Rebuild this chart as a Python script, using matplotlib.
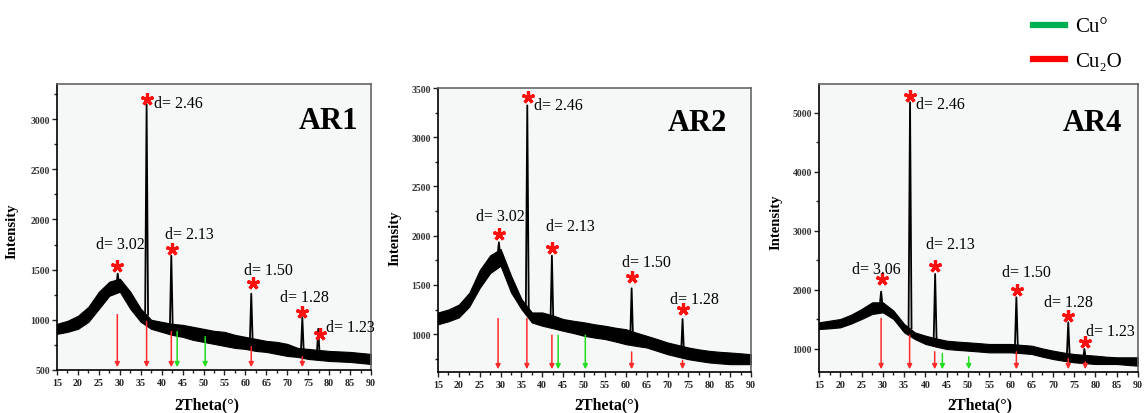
import matplotlib
matplotlib.use('Agg')
import matplotlib.pyplot as plt
from matplotlib.lines import Line2D
from matplotlib.ticker import MultipleLocator

plt.rcParams['font.family'] = ['Liberation Serif', 'DejaVu Serif']

tt = [15, 17.5, 20, 22.5, 25, 27.5, 30, 32.5, 35, 37.5, 40, 42.5, 45, 47.5, 50, 52.5,
      55, 57.5, 60, 62.5, 65, 67.5, 70, 72.5, 75, 77.5, 80, 82.5, 85, 87.5, 90]

# ---- AR1 ----
lo1 = [860, 880, 910, 980, 1110, 1240, 1280, 1110, 980, 910, 880, 850, 830, 800, 780, 760,
       740, 720, 710, 690, 680, 660, 640, 630, 610, 600, 590, 585, 580, 570, 560]
hi1 = [960, 990, 1040, 1130, 1280, 1380, 1410, 1280, 1110, 1000, 980, 960, 950, 930, 910, 890,
       880, 850, 830, 810, 790, 780, 760, 720, 710, 700, 690, 685, 680, 670, 660]
peak_pos1 = [29.5, 36.4, 42.3, 61.4, 73.6, 77.4]
peak_top1 = [1460, 3150, 1640, 1260, 1025, 910]
peak_base1 = [1330, 1050, 900, 760, 670, 640]
star_x1 = [29.4, 36.4, 42.4, 61.7, 73.6, 77.9]
star_y1 = [1540, 3200, 1710, 1365, 1075, 860]
lab_txt1 = ['d= 2.46', 'd= 3.02', 'd= 2.13', 'd= 1.50', 'd= 1.28', 'd= 1.23']
lab_x1 = [38.1, 30.2, 46.6, 65.4, 74.2, 79.2]
lab_y1 = [3157, 1760, 1860, 1500, 1226, 926]
lab_ha1 = ['left', 'center', 'center', 'center', 'center', 'left']
red_x1 = [29.4, 36.4, 42.3, 61.4, 73.6]
red_top1 = [1080, 1010, 910, 760, 660]
green_x1 = [43.7, 50.4]
green_top1 = [910, 860]

# ---- AR2 ----
lo2 = [1100, 1130, 1170, 1280, 1470, 1620, 1695, 1424, 1254, 1118, 1085, 1060, 1034, 1010, 983, 965,
       950, 925, 898, 880, 864, 830, 796, 770, 745, 728, 712, 703, 695, 695, 695]
hi2 = [1220, 1250, 1300, 1420, 1650, 1800, 1865, 1594, 1356, 1220, 1220, 1190, 1153, 1135, 1120, 1100,
       1085, 1065, 1050, 1015, 983, 950, 915, 890, 864, 845, 830, 820, 813, 805, 796]
peak_pos2 = [29.6, 36.4, 42.3, 61.4, 73.6]
peak_top2 = [1933, 3323, 1797, 1465, 1153]
peak_base2 = [1780, 1250, 1100, 930, 800]
star_x2 = [36.6, 29.6, 42.3, 61.5, 73.6]
star_y2 = [3408, 2018, 1872, 1577, 1254]
lab_txt2 = ['d= 2.46', 'd= 3.02', 'd= 2.13', 'd= 1.50', 'd= 1.28']
lab_x2 = [38.0, 30.0, 46.8, 64.9, 76.5]
lab_y2 = [3323, 2204, 2102, 1729, 1356]
lab_ha2 = ['left', 'center', 'center', 'center', 'center']
red_x2 = [29.4, 36.3, 42.3, 61.4, 73.6]
red_top2 = [1187, 1187, 1017, 847, 762]
green_x2 = [43.8, 50.3]
green_top2 = [1017, 1017]

# ---- AR4 ----
lo3 = [1339, 1350, 1367, 1430, 1508, 1593, 1621, 1508, 1282, 1170, 1085, 1040, 1000, 985, 972, 958,
       943, 943, 943, 930, 915, 870, 830, 800, 774, 760, 746, 746, 746, 730, 717]
hi3 = [1452, 1480, 1508, 1580, 1678, 1791, 1791, 1650, 1424, 1282, 1226, 1180, 1141, 1125, 1113, 1100,
       1085, 1085, 1085, 1070, 1056, 1010, 972, 940, 915, 900, 887, 870, 859, 859, 859]
peak_pos3 = [29.6, 36.4, 42.3, 61.4, 73.6, 77.4]
peak_top3 = [1972, 5181, 2271, 1876, 1452, 1000]
peak_base3 = [1720, 1350, 1120, 1010, 850, 810]
star_x3 = [36.4, 29.9, 42.3, 61.5, 73.5, 77.6]
star_y3 = [5294, 2187, 2413, 2006, 1565, 1113]
lab_txt3 = ['d= 2.46', 'd= 3.06', 'd= 2.13', 'd= 1.50', 'd= 1.28', 'd= 1.23']
lab_x3 = [37.8, 28.4, 46.0, 63.7, 73.7, 77.7]
lab_y3 = [5153, 2356, 2780, 2300, 1791, 1311]
lab_ha3 = ['left', 'center', 'center', 'center', 'center', 'left']
red_x3 = [29.6, 36.3, 42.2, 61.4, 73.6, 77.6]
red_top3 = [1565, 1282, 1000, 1000, 887, 830]
green_x3 = [44.0, 50.2]
green_top3 = [972, 915]

panels = [
    dict(name='AR1', pos=[0.0498, 0.1039, 0.2742, 0.6908], ylim=(500, 3350), ymaj=500,
         lo=lo1, hi=hi1, pp=peak_pos1, pt=peak_top1, pb=peak_base1,
         sx=star_x1, sy=star_y1, lt=lab_txt1, lx=lab_x1, ly=lab_y1, lha=lab_ha1,
         rx=red_x1, rt=red_top1, gx=green_x1, gt=green_top1,
         title_xy=(0.96, 0.874), ylab_xy=(-0.124, 0.49), xlab_xy=(0.478, -0.147)),
    dict(name='AR2', pos=[0.3825, 0.099, 0.2734, 0.686], ylim=(615, 3500), ymaj=500,
         lo=lo2, hi=hi2, pp=peak_pos2, pt=peak_top2, pb=peak_base2,
         sx=star_x2, sy=star_y2, lt=lab_txt2, lx=lab_x2, ly=lab_y2, lha=lab_ha2,
         rx=red_x2, rt=red_top2, gx=green_x2, gt=green_top2,
         title_xy=(0.923, 0.878), ylab_xy=(-0.118, 0.475), xlab_xy=(0.54, -0.141)),
    dict(name='AR4', pos=[0.7153, 0.099, 0.2786, 0.6957], ylim=(610, 5490), ymaj=1000,
         lo=lo3, hi=hi3, pp=peak_pos3, pt=peak_top3, pb=peak_base3,
         sx=star_x3, sy=star_y3, lt=lab_txt3, lx=lab_x3, ly=lab_y3, lha=lab_ha3,
         rx=red_x3, rt=red_top3, gx=green_x3, gt=green_top3,
         title_xy=(0.95, 0.868), ylab_xy=(-0.116, 0.524), xlab_xy=(0.505, -0.139)),
]

fig = plt.figure(figsize=(11.45, 4.14), dpi=100)

for p in panels:
    ax = fig.add_axes(p['pos'])
    ax.set_facecolor('#f6f8f7')
    ymin = p['ylim'][0]
    # noisy background band
    ax.fill_between(tt, p['lo'], p['hi'], color='black', lw=0.8, zorder=2)
    # sharp peaks
    for x, top, base in zip(p['pp'], p['pt'], p['pb']):
        ax.plot([x - 0.35, x, x + 0.35], [base, top, base], color='black', lw=1.3, zorder=3)
    # reflection markers (arrows)
    for x, top in zip(p['rx'], p['rt']):
        ax.annotate('', xy=(x, ymin), xytext=(x, top),
                    arrowprops=dict(arrowstyle='-|>', color='#ff2a2a', lw=1.1, mutation_scale=7),
                    zorder=4)
    for x, top in zip(p['gx'], p['gt']):
        ax.annotate('', xy=(x, ymin), xytext=(x, top),
                    arrowprops=dict(arrowstyle='-|>', color='#22dd22', lw=1.1, mutation_scale=7),
                    zorder=4)
    ax.plot(p['sx'], p['sy'], ls='none', marker=(5, 2, 0), ms=9, mew=2.3, color='#ff1010', zorder=5)
    for t, x, y, ha in zip(p['lt'], p['lx'], p['ly'], p['lha']):
        ax.text(x, y, t, ha=ha, va='center', fontsize=11.5, color='black', zorder=6)
    ax.text(p['title_xy'][0], p['title_xy'][1], p['name'], transform=ax.transAxes,
            ha='right', va='center', fontsize=22, fontweight='bold')

    ax.set_xlim(15, 90)
    ax.set_ylim(*p['ylim'])
    ax.xaxis.set_major_locator(MultipleLocator(5))
    ax.xaxis.set_minor_locator(MultipleLocator(2.5))
    ax.yaxis.set_major_locator(MultipleLocator(p['ymaj']))
    ax.yaxis.set_minor_locator(MultipleLocator(p['ymaj'] / 2))
    ax.tick_params(axis='both', which='both', direction='out', width=1.0, color='#222')
    ax.tick_params(axis='both', which='major', length=3.5)
    ax.tick_params(axis='both', which='minor', length=2.5)
    ax.tick_params(axis='x', labelsize=7.2, pad=2, labelcolor='#222')
    ax.tick_params(axis='y', labelsize=7, pad=1.5, labelcolor='#333')
    for lab in ax.get_xticklabels() + ax.get_yticklabels():
        lab.set_fontweight('bold')
    for s in ['left', 'bottom']:
        ax.spines[s].set_color('black')
        ax.spines[s].set_linewidth(1.2)
    for s in ['top', 'right']:
        ax.spines[s].set_color('#666')
        ax.spines[s].set_linewidth(1.2)

    ax.set_ylabel('Intensity', fontsize=10.5, fontweight='bold')
    ax.yaxis.set_label_coords(*p['ylab_xy'])
    ax.set_xlabel('2Theta(°)', fontsize=11.5, fontweight='bold', va='bottom')
    ax.xaxis.set_label_coords(*p['xlab_xy'])

# legend in the top right corner
fig.add_artist(Line2D([0.902, 0.930], [0.936, 0.936], color='#00b050', lw=4.5, transform=fig.transFigure))
fig.add_artist(Line2D([0.902, 0.930], [0.855, 0.855], color='#ff0000', lw=4.5, transform=fig.transFigure))
fig.text(0.939, 0.934, 'Cu°', fontsize=15, va='center', ha='left')
fig.text(0.939, 0.850, 'Cu₂O', fontsize=15, va='center', ha='left')

plt.savefig('out.png', dpi=100)
